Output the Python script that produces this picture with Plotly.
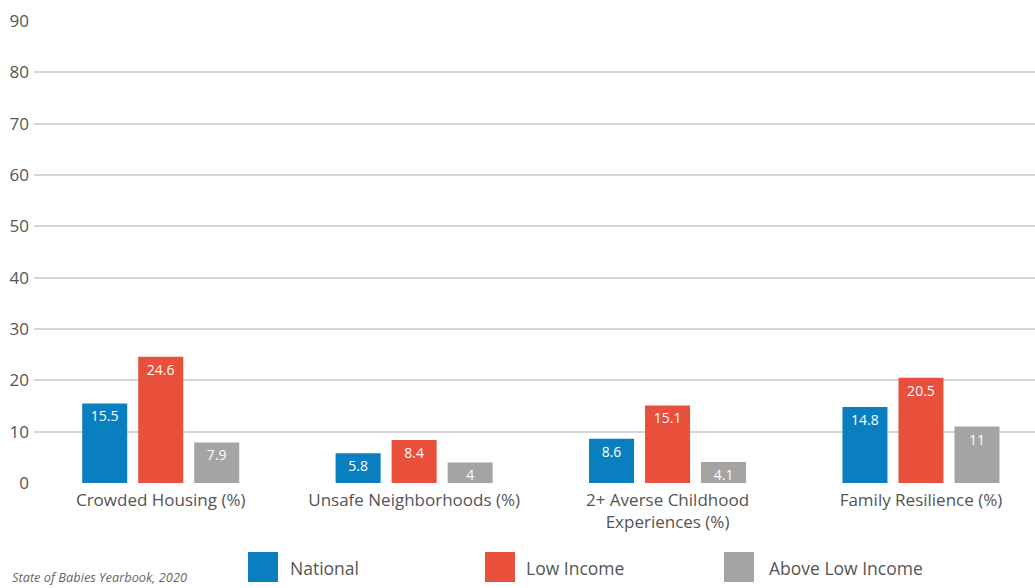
import plotly.graph_objects as go

categories = ["Crowded Housing (%)", "Unsafe Neighborhoods (%)",
              "2+ Averse Childhood<br>Experiences (%)", "Family Resilience (%)"]
series_names = ["National", "Low Income", "Above Low Income"]
national = [15.5, 5.8, 8.6, 14.8]
low_income = [24.6, 8.4, 15.1, 20.5]
above_low_income = [7.9, 4, 4.1, 11]
colors = ["#0a7fc0", "#e8503b", "#a4a4a4"]
y_ticks = [0, 10, 20, 30, 40, 50, 60, 70, 80, 90]
source = "State of Babies Yearbook, 2020"

FONT = "Open Sans"
TXT = "#555555"

fig = go.Figure()
for name, vals, col in zip(series_names, [national, low_income, above_low_income], colors):
    fig.add_trace(go.Bar(
        x=categories, y=vals, name=name, marker=dict(color=col, line=dict(width=0)),
        text=[f"{v:g}" for v in vals], textposition="inside", insidetextanchor="end",
        textangle=0, constraintext="none",
        textfont=dict(color="white", size=14, family=FONT), showlegend=False,
    ))

fig.update_layout(
    width=1035, height=588,
    margin=dict(l=34, r=0, t=21, b=105),
    paper_bgcolor="white", plot_bgcolor="white",
    barmode="group", bargap=0.337, bargroupgap=0.196,
    font=dict(family=FONT, color=TXT, size=16),
    xaxis=dict(range=[-0.5, 3.45], showgrid=False, showline=False, ticks="",
               tickfont=dict(size=17, color=TXT, family=FONT), ticklabelstandoff=5),
    yaxis=dict(range=[0, 90], tickvals=y_ticks, showgrid=True, gridcolor="#d6d6d6",
               gridwidth=1.5, zeroline=False, showline=False, ticks="",
               tickfont=dict(size=17, color=TXT, family=FONT), ticklabelstandoff=4),
)

# legend drawn as shapes + annotations
leg_x = [248, 485, 724]
leg_text_off = [40, 39, 43]
for name, col, x0, off in zip(series_names, colors, leg_x, leg_text_off):
    fig.add_shape(type="rect", xref="paper", yref="paper",
                  x0=(x0 - 34) / 1001, x1=(x0 + 30 - 34) / 1001,
                  y0=(588 - 582 - 105) / 462, y1=(588 - 552 - 105) / 462,
                  fillcolor=col, line=dict(width=0))
    fig.add_annotation(text=name, xref="paper", yref="paper",
                       x=(x0 + off - 34) / 1001, y=(588 - 568 - 105) / 462,
                       xanchor="left", yanchor="middle", showarrow=False,
                       font=dict(size=17.5, color=TXT, family=FONT))

fig.add_annotation(text="<i>" + source + "</i>", xref="paper", yref="paper",
                   x=(10 - 34) / 1001, y=(588 - 577 - 105) / 462,
                   xanchor="left", yanchor="middle", showarrow=False,
                   font=dict(size=12.8, color="#666666", family=FONT))

fig.write_html("out.html")
